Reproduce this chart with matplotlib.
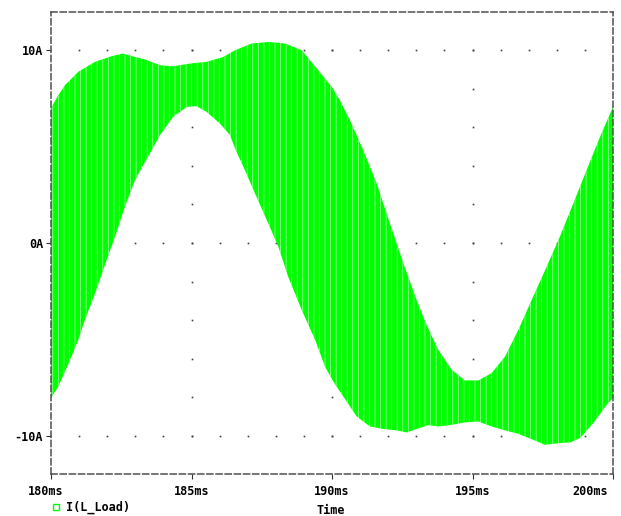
import numpy as np
import matplotlib
matplotlib.use('Agg')
import matplotlib.pyplot as plt
from matplotlib.patches import Rectangle
from matplotlib.transforms import ScaledTranslation

# envelope of I(L_Load) (ms, A)
upper_t = [180.0, 180.26, 180.5, 180.97, 181.57, 182.16, 182.57, 182.99, 183.35, 183.88,
           184.35, 184.95, 185.54, 186.13, 186.55, 187.14, 187.73, 188.33, 188.92, 189.51,
           189.99, 190.28, 190.64, 191.11, 191.59, 192.06, 192.54, 193.01, 193.35, 193.78,
           194.26, 194.73, 195.21, 195.68, 196.16, 196.63, 197.16, 197.64, 198.11, 198.59,
           199.06, 199.54, 200.0]
upper_a = [7.0, 7.67, 8.19, 8.88, 9.40, 9.69, 9.83, 9.65, 9.52, 9.22,
           9.17, 9.31, 9.40, 9.65, 10.0, 10.35, 10.43, 10.35, 10.0, 8.96,
           8.10, 7.41, 6.37, 4.82, 3.09, 1.02, -1.05, -2.95, -4.2, -5.54,
           -6.58, -7.13, -7.13, -6.75, -5.89, -4.51, -2.78, -1.23, 0.33, 2.06,
           3.78, 5.51, 7.06]
lower_t = [180.0, 180.26, 180.5, 180.73, 180.97, 181.21, 181.57, 181.92, 182.28, 182.63,
           182.99, 183.17, 183.52, 183.88, 184.35, 184.83, 185.18, 185.54, 186.01, 186.37,
           186.55, 186.9, 187.26, 187.73, 188.09, 188.44, 188.92, 189.40, 189.75, 190.05,
           190.4, 190.88, 191.35, 191.83, 192.30, 192.66, 193.01, 193.43, 193.78, 194.26,
           194.73, 195.21, 195.68, 196.16, 196.63, 197.16, 197.58, 198.11, 198.47, 198.83,
           199.30, 199.78, 200.0]
lower_a = [-8.05, -7.44, -6.67, -5.89, -5.03, -3.99, -2.61, -1.14, 0.33, 1.88,
           3.26, 3.75, 4.65, 5.60, 6.55, 7.06, 7.10, 6.80, 6.20, 5.60,
           4.9, 3.78, 2.57, 1.02, -0.19, -1.75, -3.47, -5.03, -6.41, -7.2,
           -7.96, -9.0, -9.52, -9.65, -9.72, -9.83, -9.65, -9.45, -9.52, -9.43,
           -9.31, -9.26, -9.52, -9.72, -9.90, -10.21, -10.47, -10.38, -10.35, -10.12,
           -9.34, -8.39, -8.05]

x_ticks = [180, 185, 190, 195, 200]
x_labels = ['180ms', '185ms', '190ms', '195ms', '200ms']
y_ticks = [-10, 0, 10]
y_labels = ['-10A', '0A', '10A']

GREEN = '#00ff00'
FRAME = '#505050'
MONO = 'DejaVu Sans Mono'
plt.rcParams['hatch.linewidth'] = 0.5

fig = plt.figure(figsize=(6.21, 5.16), dpi=100)
W, H = 621, 516
ax = fig.add_axes([51 / W, 1 - 474.3 / H, (613 - 51) / W, (474.3 - 11.7) / H])
ax.set_xlim(180, 200)
ax.set_ylim(-12, 12)

# dotted grid: rows at the y ticks every 1 ms, columns at inner x ticks every 2 A
gx = np.arange(181, 200)
gy = np.arange(-10, 11, 2)
for yv in y_ticks:
    ax.plot(gx, np.full(len(gx), yv), ls='none', marker='s', ms=1.2, mew=0, color='#404040', zorder=1)
for xv in x_ticks[1:-1]:
    ax.plot(np.full(len(gy), xv), gy, ls='none', marker='s', ms=1.2, mew=0, color='#404040', zorder=1)

# switching-ripple band
px = np.r_[upper_t, lower_t[::-1]]
py = np.r_[upper_a, lower_a[::-1]]
ax.fill(px, py, facecolor=GREEN, edgecolor='#b4ffb4', lw=0, hatch='|||', zorder=2)

for s in ax.spines.values():
    s.set_linestyle((0, (4, 2)))
    s.set_color(FRAME)
    s.set_linewidth(1.1)

ax.set_xticks(x_ticks)
ax.set_xticklabels(x_labels)
ax.set_yticks(y_ticks)
ax.set_yticklabels(y_labels)
ax.tick_params(direction='out', length=3.6, width=0.8, color='#303030')
ax.tick_params(axis='x', pad=4)
ax.tick_params(axis='y', pad=2)
for lab in ax.get_xticklabels() + ax.get_yticklabels():
    lab.set_fontfamily(MONO)
    lab.set_fontweight('bold')
    lab.set_fontsize(8.5)
xl = ax.get_xticklabels()
xl[0].set_transform(xl[0].get_transform() + ScaledTranslation(-0.05, 0, fig.dpi_scale_trans))
xl[-1].set_transform(xl[-1].get_transform() + ScaledTranslation(-0.23, 0, fig.dpi_scale_trans))

# legend and axis title
fig.add_artist(Rectangle((53 / W, 1 - 510 / H), 6 / W, 6 / H, fill=False, ec=GREEN, lw=1))
fig.text(66 / W, 1 - 507 / H, 'I(L_Load)', family=MONO, weight='bold', size=8.5, va='center', ha='left')
fig.text(331 / W, 1 - 510 / H, 'Time', family=MONO, weight='bold', size=8.5, va='center', ha='center')

fig.savefig('out.png', dpi=100, facecolor='white')
